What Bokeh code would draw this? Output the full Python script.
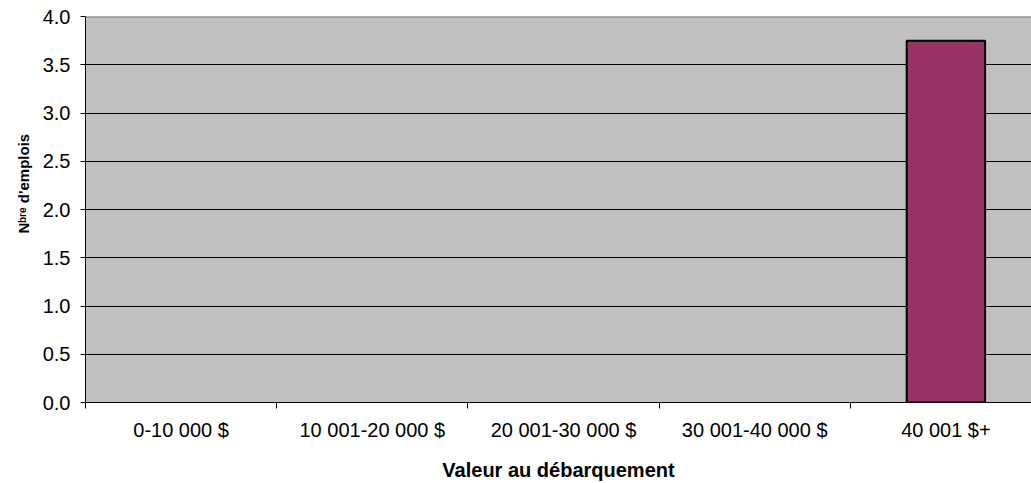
from bokeh.plotting import figure
from bokeh.models import Range1d, FixedTicker, NumeralTickFormatter, Span, Title, ColumnDataSource
from bokeh.embed import file_html
from bokeh.resources import INLINE

categories = ["0-10 000 $", "10 001-20 000 $", "20 001-30 000 $", "30 001-40 000 $", "40 001 $+"]
values = [0, 0, 0, 0, 3.75]
y_ticks = [0, 0.5, 1.0, 1.5, 2.0, 2.5, 3.0, 3.5, 4.0]

FONT = "Liberation Sans"
W, H = 1031, 483
LEFT = 85
BOTTOM = 79
cat_w = 191.2
x_end = (W - LEFT) / cat_w

xpos = [i + 0.5 for i in range(len(categories))]
src = ColumnDataSource(dict(x=xpos, top=values, cat=categories,
                            la=[1 if v > 0 else 0 for v in values]))

p = figure(width=W, height=H, output_backend="svg", toolbar_location=None,
           x_range=Range1d(0, x_end), y_range=Range1d(0, 4),
           min_border_left=LEFT, min_border_right=0, min_border_top=16, min_border_bottom=BOTTOM)
p.background_fill_color = "#C0C0C0"
p.border_fill_color = "white"
p.outline_line_color = None

p.vbar(x="x", top="top", width=0.41, source=src, fill_color="#993366",
       line_color="black", line_width=2, line_alpha="la")

# x axis
xa = p.xaxis[0]
xa.ticker = FixedTicker(ticks=xpos, minor_ticks=list(range(len(categories))))
xa.major_label_overrides = {x: c for x, c in zip(xpos, categories)}
xa.major_tick_line_color = None
xa.major_tick_out = 6
xa.minor_tick_in = 0
xa.minor_tick_out = 6
xa.minor_tick_line_color = "black"
xa.major_label_standoff = 10
xa.major_label_text_font = FONT
xa.major_label_text_font_size = "20px"
xa.major_label_text_color = "black"
xa.axis_line_color = "black"
xa.axis_label = "Valeur au débarquement"
xa.axis_label_text_font = FONT
xa.axis_label_text_font_size = "20px"
xa.axis_label_text_font_style = "bold"
xa.axis_label_text_color = "black"
xa.axis_label_standoff = 15

# y axis
ya = p.yaxis[0]
ya.ticker = FixedTicker(ticks=y_ticks)
ya.formatter = NumeralTickFormatter(format="0.0")
ya.major_tick_in = 0
ya.major_tick_out = 5
ya.minor_tick_line_color = None
ya.major_label_standoff = 10
ya.major_label_text_font = FONT
ya.major_label_text_font_size = "20px"
ya.major_label_text_color = "black"
ya.axis_line_color = "black"

p.xgrid.grid_line_color = None
p.ygrid.grid_line_color = "black"
p.ygrid.grid_line_width = 1

p.add_layout(Span(location=4, dimension="width", line_color="#808080", line_width=2, level="overlay"))

ylab = Title(text="Nᵇʳᵉ d'emplois", align="left", offset=169, standoff=16, text_font=FONT,
             text_font_size="15px", text_font_style="bold", text_color="black")
p.add_layout(ylab, "left")

open("out.html", "w").write(file_html(p, INLINE))
